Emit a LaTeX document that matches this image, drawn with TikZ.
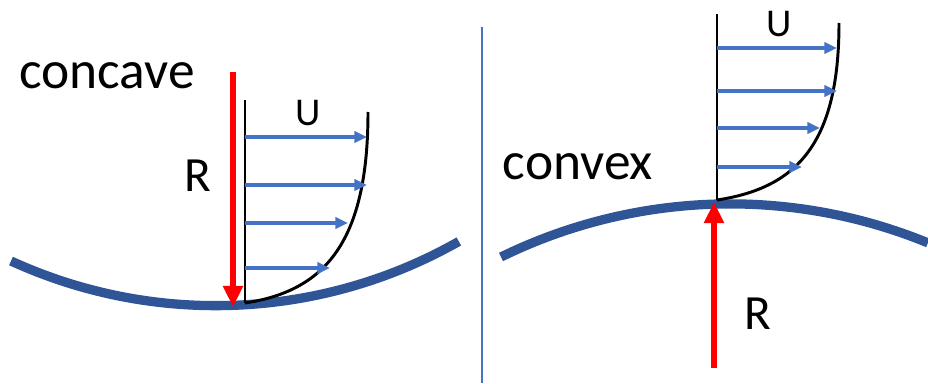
\documentclass[tikz,border=0pt]{standalone}
\usepackage{fontspec}
\setmainfont{Carlito}
\usetikzlibrary{arrows.meta}
\definecolor{surfblue}{RGB}{47,85,151}
\definecolor{velblue}{RGB}{68,114,196}
\definecolor{radred}{RGB}{255,0,0}
\tikzset{
  surfarc/.style={draw=surfblue, line width=6.6pt},
  wallln/.style={draw=black, line width=1.4pt},
  profln/.style={draw=black, line width=2.1pt},
  sepln/.style={draw=velblue, line width=0.8pt},
  velarr/.style={-{Triangle[length=9pt, width=8pt]}, draw=velblue, line width=2.3pt},
  radarr/.style={-{Triangle[length=15pt, width=13.5pt]}, draw=radred, line width=4pt},
  namelbl/.style={inner sep=0pt, font=\fontsize{38}{41}\selectfont},
  rlbl/.style={inner sep=0pt, font=\fontsize{35}{38}\selectfont},
  ulbl/.style={inner sep=0pt, font=\fontsize{28}{31}\selectfont},
}

\begin{document}
\begin{tikzpicture}[x=0.025cm, y=0.025cm]
\useasboundingbox (0,0) rectangle (928,383);

% =====================================================================
%  CONCAVE (left)
% =====================================================================

% curved surface
\coordinate (lsurf) at (11,122);
\draw[surfarc] (lsurf) arc[start angle=245.4, end angle=299.6, radius=492];

% wall line and velocity profile
\coordinate (lw0) at (245,80);
\coordinate (lw1) at (245,283);
\coordinate (lp1) at (368,271);
\draw[wallln] (lw0) -- (lw1);
\draw[profln] (lw0) .. controls (325,92) and (368,141) .. (lp1);

% --- velocity arrows ---
\foreach \yy/\xx [count=\i] in {246/367, 198/367, 160/348, 115/330} {
  \coordinate (lva\i) at (245,\yy);
  \coordinate (lvb\i) at (\xx,\yy);
  \draw[velarr] (lva\i) -- (lvb\i);
}

% radius arrow (points down to the surface)
\coordinate (lr0) at (233,311);
\coordinate (lr1) at (233,76);
\draw[radarr] (lr0) -- (lr1);

% labels
\node[namelbl] (lname) at (107,307) {concave};
\node[rlbl] (lR) at (198,207) {R};
\node[ulbl] (lU) at (308,270) {U};

% =====================================================================
%  SEPARATOR
% =====================================================================
\coordinate (sepT) at (482,356);
\coordinate (sepB) at (482,0);
\draw[sepln] (sepT) -- (sepB);

% =====================================================================
%  CONVEX (right)
% =====================================================================

% curved surface
\coordinate (rsurf) at (501,126);
\draw[surfarc] (rsurf) arc[start angle=116.1, end angle=67.7, radius=521];

% wall line and velocity profile
\coordinate (rw0) at (717,183);
\coordinate (rw1) at (717,369);
\coordinate (rp1) at (839,360);
\draw[wallln] (rw0) -- (rw1);
\draw[profln] (rw0) .. controls (797,195) and (839,239.5) .. (rp1);

% --- velocity arrows ---
\foreach \yy/\xx [count=\i] in {335/837, 292/837, 255/820, 216/802} {
  \coordinate (rva\i) at (717,\yy);
  \coordinate (rvb\i) at (\xx,\yy);
  \draw[velarr] (rva\i) -- (rvb\i);
}

% radius arrow (points up to the surface)
\coordinate (rr0) at (714,15);
\coordinate (rr1) at (714,181);
\draw[radarr] (rr0) -- (rr1);

% labels
\node[namelbl] (rname) at (578,216) {convex};
\node[rlbl] (rR) at (758,69) {R};
\node[ulbl] (rU) at (779,359) {U};

\end{tikzpicture}
\end{document}
